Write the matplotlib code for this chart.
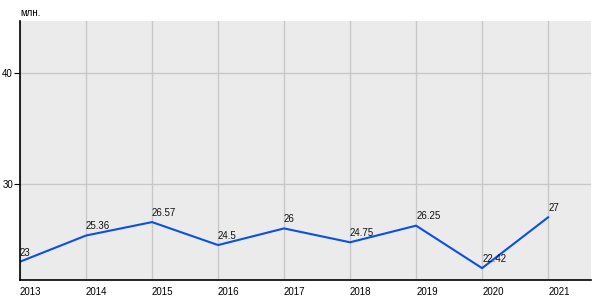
import matplotlib
matplotlib.use("Agg")
import matplotlib.pyplot as plt

years = [2013, 2014, 2015, 2016, 2017, 2018, 2019, 2020, 2021]
values = [23, 25.36, 26.57, 24.5, 26, 24.75, 26.25, 22.42, 27]
value_labels = ["23", "25.36", "26.57", "24.5", "26", "24.75", "26.25", "22.42", "27"]

plt.rcParams['font.family'] = ['Liberation Sans', 'DejaVu Sans']

fig = plt.figure(figsize=(6, 3), dpi=100)
ax = fig.add_axes([20 / 600, 20 / 300, 571 / 600, 259 / 300])
ax.set_facecolor('#ebebeb')

ax.plot(years, values, color='#0a50e6', linewidth=1.5)
for x, y, lab in zip(years, values, value_labels):
    ax.annotate(lab, (x, y), xytext=(0, 3), textcoords='offset points',
                ha='left', va='bottom', fontsize=7, color='#111111')

ax.set_xlim(2013, 2021.65)
ax.set_ylim(21.35, 44.7)
ax.set_xticks(years)
ax.set_xticklabels([str(y) for y in years], ha='left')
ax.set_yticks([30, 40])

ax.grid(True, color='#c8c8c8', linewidth=1)
ax.set_axisbelow(True)
ax.spines['top'].set_visible(False)
ax.spines['right'].set_visible(False)
ax.spines['left'].set_linewidth(1.2)
ax.spines['bottom'].set_linewidth(1.2)
ax.tick_params(axis='x', length=0, labelsize=7, pad=5)
ax.tick_params(axis='y', length=4, labelsize=7, pad=1)

fig.text(20 / 600, 1 - 13 / 300, 'млн.', fontsize=7, ha='left', va='center')

fig.savefig('out.png', dpi=100)
